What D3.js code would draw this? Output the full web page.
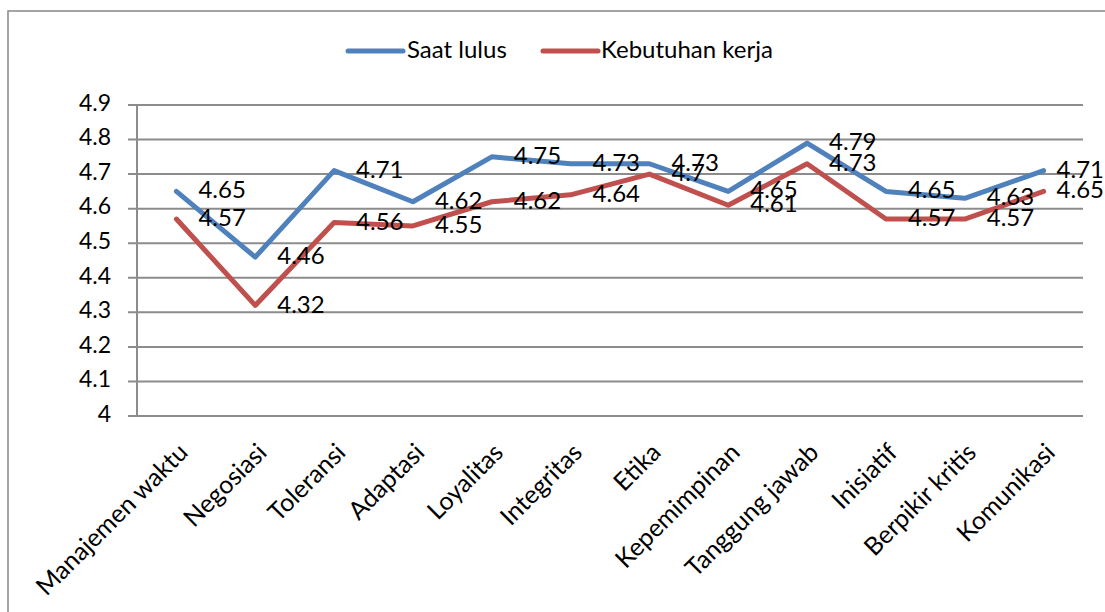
<!DOCTYPE html>
<html>
<head>
<meta charset="utf-8">
<script src="https://cdn.jsdelivr.net/npm/d3@7"></script>
<style>
  html, body { margin: 0; padding: 0; background: #fff; }
  svg { display: block; }
  text { font-family: Lato, "Open Sans", sans-serif; fill: #000; }
</style>
</head>
<body>
<svg id="chart" width="1105" height="612"></svg>
<script>
const categories = ["Manajemen waktu", "Negosiasi", "Toleransi", "Adaptasi", "Loyalitas", "Integritas", "Etika", "Kepemimpinan", "Tanggung jawab", "Inisiatif", "Berpikir kritis", "Komunikasi"];
const saatLulus = [4.65, 4.46, 4.71, 4.62, 4.75, 4.73, 4.73, 4.65, 4.79, 4.65, 4.63, 4.71];
const kebutuhanKerja = [4.57, 4.32, 4.56, 4.55, 4.62, 4.64, 4.7, 4.61, 4.73, 4.57, 4.57, 4.65];
const yTicks = [4, 4.1, 4.2, 4.3, 4.4, 4.5, 4.6, 4.7, 4.8, 4.9];
const seriesNames = ["Saat lulus", "Kebutuhan kerja"];
const seriesColors = ["#4F81BD", "#C0504D"];

const svg = d3.select("#chart");
const pLeft = 137, pRight = 1083, pTop = 105, pBottom = 416;

// chart border
svg.append("rect").attr("x", 8).attr("y", 11).attr("width", 1120).attr("height", 640)
  .attr("fill", "none").attr("stroke", "#888").attr("stroke-width", 1.5);

const x = d3.scalePoint().domain(categories).range([pLeft, pRight]).padding(0.5);
const y = d3.scaleLinear().domain([4, 4.9]).range([pBottom, pTop]);

// gridlines
svg.append("g").selectAll("line").data(yTicks).join("line")
  .attr("x1", pLeft - 9).attr("x2", pRight)
  .attr("y1", d => y(d)).attr("y2", d => y(d))
  .attr("stroke", "#8c8c8c").attr("stroke-width", 2);

// y axis line
svg.append("line").attr("x1", pLeft).attr("x2", pLeft).attr("y1", pTop).attr("y2", pBottom)
  .attr("stroke", "#8c8c8c").attr("stroke-width", 2);

// y tick labels
svg.append("g").selectAll("text").data(yTicks).join("text")
  .attr("x", 111).attr("y", d => y(d))
  .attr("text-anchor", "end").attr("dominant-baseline", "middle")
  .attr("font-size", 23)
  .text(d => String(+d.toFixed(1)));

// category labels
svg.append("g").selectAll("text").data(categories).join("text")
  .attr("transform", d => `translate(${x(d) + 13},${454}) rotate(-45)`)
  .attr("text-anchor", "end")
  .attr("font-size", 25)
  .text(d => d);

// lines
const series = [saatLulus, kebutuhanKerja];
const line = d3.line().x((d, i) => x(categories[i])).y(d => y(d));
series.forEach((vals, s) => {
  svg.append("path").datum(vals)
    .attr("d", line)
    .attr("fill", "none")
    .attr("stroke", seriesColors[s])
    .attr("stroke-width", 5)
    .attr("stroke-linejoin", "round")
    .attr("stroke-linecap", "round");
});

// data labels (kept inside the chart's right edge, like the original)
series.forEach((vals, s) => {
  svg.append("g").selectAll("text").data(vals).join("text")
    .attr("x", (d, i) => x(categories[i]) + 22)
    .attr("y", d => y(d) + 1)
    .attr("dominant-baseline", "middle")
    .attr("font-size", 24)
    .text(d => String(d))
    .each(function() {
      const w = this.getComputedTextLength();
      const cx = +this.getAttribute("x");
      if (cx + w > 1104) this.setAttribute("x", 1104 - w);
    });
});

// legend
const legendItems = [{lx: 348, tx: 407}, {lx: 543, tx: 601}];
legendItems.forEach((it, s) => {
  svg.append("line").attr("x1", it.lx).attr("x2", it.lx + 55)
    .attr("y1", 51).attr("y2", 51)
    .attr("stroke", seriesColors[s]).attr("stroke-width", 5).attr("stroke-linecap", "round");
  svg.append("text").attr("x", it.tx).attr("y", 52)
    .attr("dominant-baseline", "middle").attr("font-size", 24)
    .text(seriesNames[s]);
});
</script>
</body>
</html>
